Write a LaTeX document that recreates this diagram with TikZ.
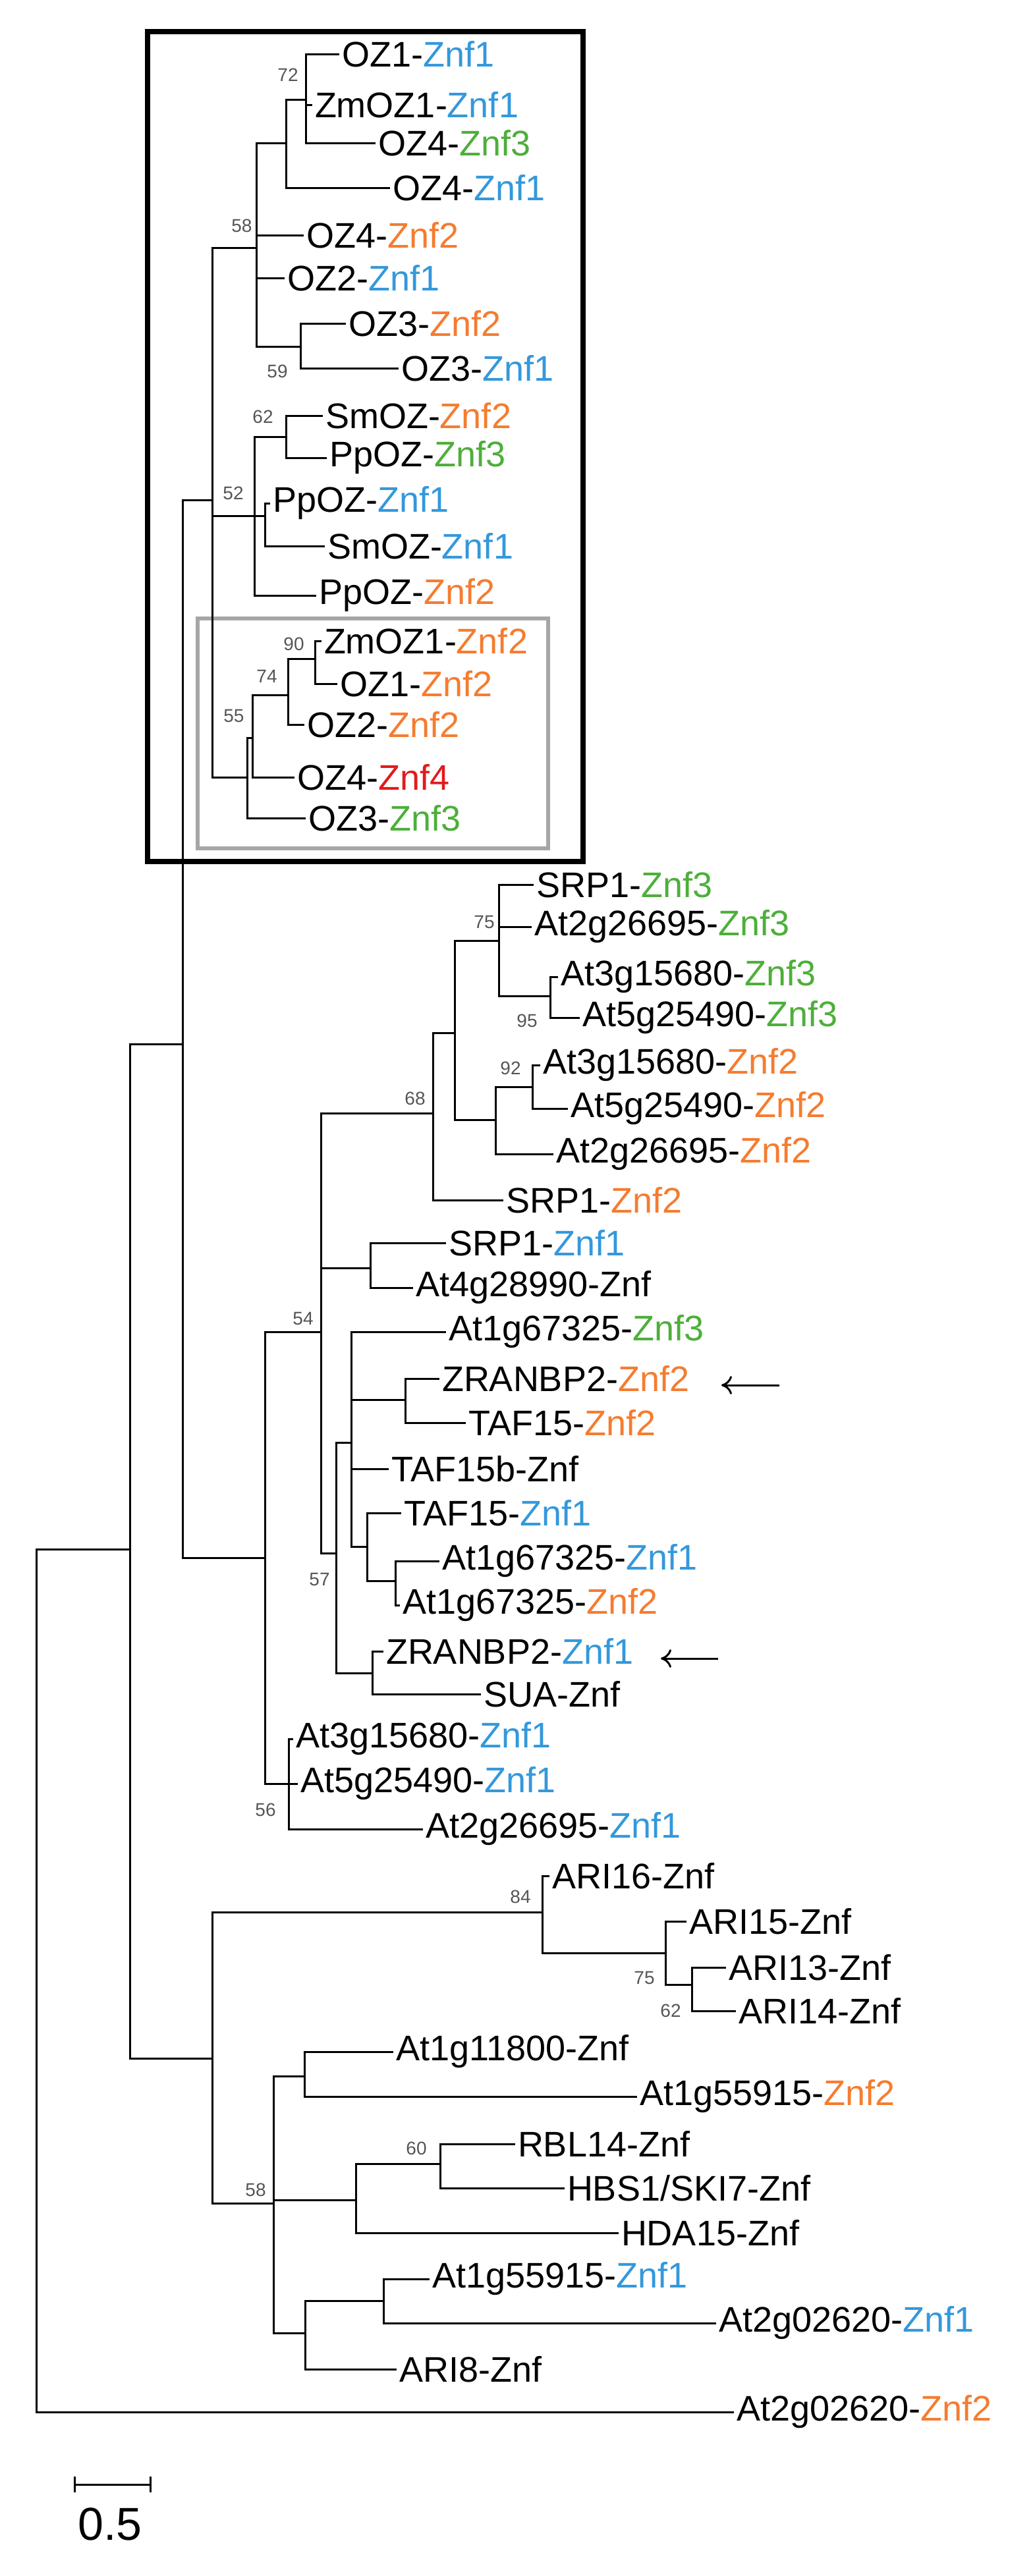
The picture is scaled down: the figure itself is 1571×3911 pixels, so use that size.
\documentclass[tikz,border=0pt]{standalone}
\usepackage{fontspec}
\setmainfont{Liberation Sans}
\usetikzlibrary{arrows.meta,positioning}
\definecolor{zblue}{RGB}{52,152,219}
\definecolor{zorange}{RGB}{245,124,48}
\definecolor{zgreen}{RGB}{77,175,58}
\definecolor{zred}{RGB}{228,26,28}
\definecolor{zgrey}{RGB}{85,85,85}
\newcommand{\tip}[6]{\node[leaf] (#1) at (#2,#3) {#4-\textcolor{#5}{#6}};}
\newcommand{\boot}[3]{\node[boot] at (#1,#2) {#3};}

\begin{document}
\begin{tikzpicture}[x=1pt,y=-1pt,
    branch/.style={line width=3pt,line cap=rect},
    leaf/.style={anchor=west,inner sep=0pt,outer xsep=6pt,font=\fontsize{54}{60}\selectfont},
    boot/.style={text=zgrey,inner sep=0pt,font=\fontsize{28}{30}\selectfont},
    pointer/.style={line width=3pt,-{To[length=16pt,width=28pt]}}]
  \useasboundingbox (0,0) rectangle (1571,3911);

  % boxes
  \draw[line width=8pt] (224,48) rectangle (885,1308);
  \draw[line width=6pt,black!35] (300,939) rectangle (832,1288);

  % internal nodes
  \coordinate (r0) at (55,2352);   \coordinate (r1) at (197,2352);
  \coordinate (r2) at (277,1585);  \coordinate (bx) at (322,759);
  \coordinate (n58) at (389,376);  \coordinate (p1) at (434,217);
  \coordinate (n72) at (464,151);  \coordinate (n59) at (456,526);
  \coordinate (n52) at (386,783);  \coordinate (n62) at (434,663);
  \coordinate (p2) at (402,783);   \coordinate (nB) at (375,1180);
  \coordinate (nA) at (383,1120);  \coordinate (n74) at (437,1055);
  \coordinate (n90) at (478,1000);
  \coordinate (n54) at (402,2365); \coordinate (nb) at (487,2022);
  \coordinate (n68) at (657,1690); \coordinate (p3) at (690,1568);
  \coordinate (n75) at (757,1428); \coordinate (n95) at (835,1512);
  \coordinate (p4) at (752,1700);  \coordinate (n92) at (808,1650);
  \coordinate (nsrp) at (562,1925);\coordinate (n57) at (510,2358);
  \coordinate (p5) at (533,2190);  \coordinate (p7) at (615,2125);
  \coordinate (p8) at (557,2348);  \coordinate (p9) at (600,2400);
  \coordinate (p6) at (565,2540);  \coordinate (n56) at (438,2708);
  \coordinate (rL) at (322,3125);  \coordinate (n84) at (823,2903);
  \coordinate (n75b) at (1010,2965); \coordinate (n62b) at (1050,3013);
  \coordinate (n58b) at (415,3345); \coordinate (p10) at (462,3152);
  \coordinate (p11) at (540,3340); \coordinate (n60) at (668,3285);
  \coordinate (p12) at (463,3542); \coordinate (p13) at (582,3493);

  % leaves
  \tip{oz1a}{513}{82}{OZ1}{zblue}{Znf1}
  \tip{zm1a}{472}{159}{ZmOZ1}{zblue}{Znf1}
  \tip{oz4c}{568}{217}{OZ4}{zgreen}{Znf3}
  \tip{oz4a}{590}{285}{OZ4}{zblue}{Znf1}
  \tip{oz4b}{459}{357}{OZ4}{zorange}{Znf2}
  \tip{oz2a}{430}{422}{OZ2}{zblue}{Znf1}
  \tip{oz3b}{523}{491}{OZ3}{zorange}{Znf2}
  \tip{oz3a}{603}{559}{OZ3}{zblue}{Znf1}
  \tip{smb}{488}{631}{SmOZ}{zorange}{Znf2}
  \tip{ppc}{494}{695}{PpOZ}{zgreen}{Znf3}
  \tip{ppa}{408}{764}{PpOZ}{zblue}{Znf1}
  \tip{sma}{491}{829}{SmOZ}{zblue}{Znf1}
  \tip{ppb}{478}{904}{PpOZ}{zorange}{Znf2}
  \tip{zm1b}{486}{973}{ZmOZ1}{zorange}{Znf2}
  \tip{oz1b}{510}{1038}{OZ1}{zorange}{Znf2}
  \tip{oz2b}{460}{1100}{OZ2}{zorange}{Znf2}
  \tip{oz4d}{445}{1180}{OZ4}{zred}{Znf4}
  \tip{oz3c}{462}{1242}{OZ3}{zgreen}{Znf3}
  \tip{srpc}{808}{1343}{SRP1}{zgreen}{Znf3}
  \tip{a2c}{805}{1407}{At2g26695}{zgreen}{Znf3}
  \tip{a3c}{845}{1483}{At3g15680}{zgreen}{Znf3}
  \tip{a5c}{878}{1545}{At5g25490}{zgreen}{Znf3}
  \tip{a3b}{818}{1617}{At3g15680}{zorange}{Znf2}
  \tip{a5b}{860}{1683}{At5g25490}{zorange}{Znf2}
  \tip{a2b}{838}{1752}{At2g26695}{zorange}{Znf2}
  \tip{srpb}{762}{1822}{SRP1}{zorange}{Znf2}
  \tip{srpa}{675}{1887}{SRP1}{zblue}{Znf1}
  \tip{a4}{625}{1955}{At4g28990}{black}{Znf}
  \tip{a1c}{675}{2022}{At1g67325}{zgreen}{Znf3}
  \tip{zrb}{665}{2093}{ZRANBP2}{zorange}{Znf2}
  \tip{tfb}{705}{2160}{TAF15}{zorange}{Znf2}
  \tip{tfx}{588}{2230}{TAF15b}{black}{Znf}
  \tip{tfa}{607}{2297}{TAF15}{zblue}{Znf1}
  \tip{a1a}{665}{2370}{At1g67325}{zblue}{Znf1}
  \tip{a1b}{605}{2437}{At1g67325}{zorange}{Znf2}
  \tip{zra}{580}{2507}{ZRANBP2}{zblue}{Znf1}
  \tip{sua}{728}{2572}{SUA}{black}{Znf}
  \tip{a3a}{443}{2640}{At3g15680}{zblue}{Znf1}
  \tip{a5a}{450}{2708}{At5g25490}{zblue}{Znf1}
  \tip{a2a}{640}{2777}{At2g26695}{zblue}{Znf1}
  \tip{ari16}{832}{2848}{ARI16}{black}{Znf}
  \tip{ari15}{1040}{2917}{ARI15}{black}{Znf}
  \tip{ari13}{1100}{2987}{ARI13}{black}{Znf}
  \tip{ari14}{1115}{3053}{ARI14}{black}{Znf}
  \tip{a11}{595}{3115}{At1g11800}{black}{Znf}
  \tip{a55b}{965}{3183}{At1g55915}{zorange}{Znf2}
  \tip{rbl}{780}{3255}{RBL14}{black}{Znf}
  \tip{hbs}{855}{3322}{HBS1/SKI7}{black}{Znf}
  \tip{hda}{937}{3390}{HDA15}{black}{Znf}
  \tip{a55a}{650}{3460}{At1g55915}{zblue}{Znf1}
  \tip{a02a}{1085}{3527}{At2g02620}{zblue}{Znf1}
  \tip{ari8}{600}{3597}{ARI8}{black}{Znf}
  \tip{a02b}{1112}{3662}{At2g02620}{zorange}{Znf2}

  % branches
  \draw[branch] (r0) |- (r1) (r0) |- (a02b.west)
    (r1) |- (r2) (r1) |- (rL)
    (r2) |- (bx) (r2) |- (n54)
    (bx) |- (n58) (bx) |- (n52) (bx) |- (nB)
    (n58) |- (p1) (n58) |- (oz4b.west) (n58) |- (oz2a.west) (n58) |- (n59)
    (p1) |- (n72) (p1) |- (oz4a.west)
    (n72) |- (oz1a.west) (n72) |- (zm1a.west) (n72) |- (oz4c.west)
    (n59) |- (oz3b.west) (n59) |- (oz3a.west)
    (n52) |- (n62) (n52) |- (p2) (n52) |- (ppb.west)
    (n62) |- (smb.west) (n62) |- (ppc.west)
    (p2) |- (ppa.west) (p2) |- (sma.west)
    (nB) |- (nA) (nB) |- (oz3c.west)
    (nA) |- (n74) (nA) |- (oz4d.west)
    (n74) |- (n90) (n74) |- (oz2b.west)
    (n90) |- (zm1b.west) (n90) |- (oz1b.west)
    (n54) |- (nb) (n54) |- (n56)
    (nb) |- (n68) (nb) |- (nsrp) (nb) |- (n57)
    (n68) |- (p3) (n68) |- (srpb.west)
    (p3) |- (n75) (p3) |- (p4)
    (n75) |- (srpc.west) (n75) |- (a2c.west) (n75) |- (n95)
    (n95) |- (a3c.west) (n95) |- (a5c.west)
    (p4) |- (n92) (p4) |- (a2b.west)
    (n92) |- (a3b.west) (n92) |- (a5b.west)
    (nsrp) |- (srpa.west) (nsrp) |- (a4.west)
    (n57) |- (p5) (n57) |- (p6)
    (p5) |- (a1c.west) (p5) |- (p7) (p5) |- (tfx.west) (p5) |- (p8)
    (p7) |- (zrb.west) (p7) |- (tfb.west)
    (p8) |- (tfa.west) (p8) |- (p9)
    (p9) |- (a1a.west) (p9) |- (a1b.west)
    (p6) |- (zra.west) (p6) |- (sua.west)
    (n56) |- (a3a.west) (n56) |- (a5a.west) (n56) |- (a2a.west)
    (rL) |- (n84) (rL) |- (n58b)
    (n84) |- (ari16.west) (n84) |- (n75b)
    (n75b) |- (ari15.west) (n75b) |- (n62b)
    (n62b) |- (ari13.west) (n62b) |- (ari14.west)
    (n58b) |- (p10) (n58b) |- (p11) (n58b) |- (p12)
    (p10) |- (a11.west) (p10) |- (a55b.west)
    (p11) |- (n60) (p11) |- (hda.west)
    (n60) |- (rbl.west) (n60) |- (hbs.west)
    (p12) |- (p13) (p12) |- (ari8.west)
    (p13) |- (a55a.west) (p13) |- (a02a.west);

  % bootstrap values
  \boot{437}{114}{72} \boot{367}{343}{58} \boot{421}{564}{59}
  \boot{399}{633}{62} \boot{354}{749}{52} \boot{446}{978}{90}
  \boot{405}{1027}{74} \boot{355}{1087}{55} \boot{735}{1400}{75}
  \boot{800}{1550}{95} \boot{775}{1622}{92} \boot{630}{1668}{68}
  \boot{460}{2002}{54} \boot{485}{2398}{57} \boot{403}{2748}{56}
  \boot{790}{2880}{84} \boot{978}{3003}{75} \boot{1018}{3053}{62}
  \boot{632}{3262}{60} \boot{388}{3325}{58}

  % arrows
  \coordinate (ar1) at (1183,2103); \coordinate (ar1e) at (1095,2103);
  \coordinate (ar2) at (1090,2518); \coordinate (ar2e) at (1003,2518);
  \draw[pointer] (ar1) -- (ar1e);
  \draw[pointer] (ar2) -- (ar2e);

  % scale bar
  \coordinate (sb1) at (112,3772); \coordinate (sb2) at (230,3772);
  \draw[line width=3pt,{Bar[width=24pt]}-{Bar[width=24pt]}] (sb1) -- (sb2);
  \node[font=\fontsize{70}{80}\selectfont,inner sep=0pt] (sbl) at (167,3832) {0.5};
\end{tikzpicture}
\end{document}
